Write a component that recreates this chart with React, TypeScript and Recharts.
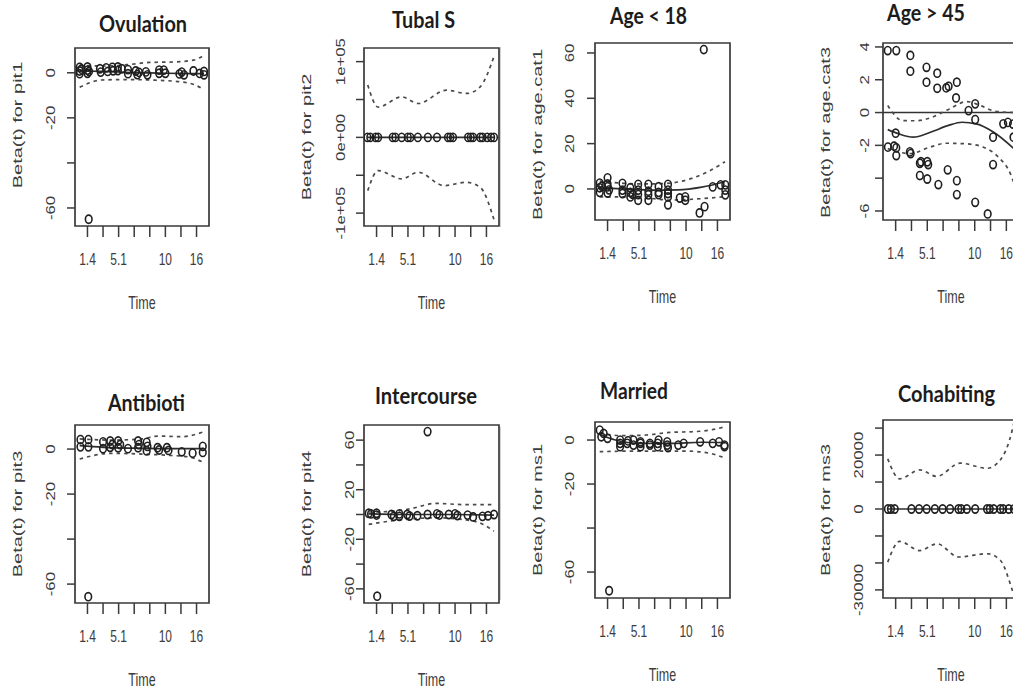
import React from "react";
import {
  ComposedChart,
  Scatter,
  Line,
  XAxis,
  YAxis,
  ReferenceArea,
  ReferenceLine,
} from "recharts";

// shared time axis (km-transformed, ticks by rank)
const TIME_TICKS = [1, 2, 3, 4, 5, 6, 7, 8];
const TIME_LABELS = ["1.4", "", "5.1", "", "", "10", "", "16"];
const T_DOMAIN: [number, number] = [0.2, 8.8];

// Ovulation (pit1)
const OVU_POINTS = [[0.5, 2.4], [0.5, 0.8], [0.5, -0.4], [0.62, 1.6], [1.0, 2.6], [1.0, 1.2], [1.0, -0.2], [1.1, 0.6], [1.08, -65], [1.8, 1.8], [1.85, 0.3], [2.2, 2.2], [2.3, 0.6], [2.6, 2.4], [2.65, 0.9], [2.95, 2.6], [2.95, 1.0], [3.2, 1.8], [3.6, 1.4], [3.6, -0.4], [4.1, 0.8], [4.2, -0.8], [4.3, 0.2], [4.75, 0.4], [4.85, -0.9], [5.6, 1.2], [5.6, -0.2], [5.9, 1.2], [6.0, -0.2], [6.9, -0.5], [7.05, 0.3], [7.2, -0.9], [7.8, 0.8], [8.2, -0.3], [8.48, 0.6], [8.48, -0.9]];
const OVU_FIT = [[0.5, 0.8], [2, 0.6], [4, 0.1], [6, -0.2], [8.48, -0.4]];
const OVU_HI = [[0.5, 3.4], [2, 3.0], [3.6, 3.6], [5, 4.6], [6.5, 4.8], [7.8, 5.6], [8.48, 7.8]];
const OVU_LO = [[0.5, -6.4], [1.9, -3.2], [3.6, -3.0], [5, -3.2], [6.8, -3.9], [7.9, -5.4], [8.48, -7.6]];
const OVU_Y_TICKS = [-60, -40, -20, 0];
const OVU_Y_LABELS = ["-60", "", "-20", "0"];

// Tubal S (pit2)
const TUBAL_POINTS = [[0.42, 0], [0.6, 0], [0.94, 0], [1.1, 0], [2.03, 0], [2.2, 0], [2.6, 0], [2.99, 0], [3.15, 0], [3.63, 0], [4.27, 0], [4.85, 0], [5.55, 0], [5.7, 0], [5.87, 0], [6.83, 0], [7.0, 0], [7.15, 0], [7.6, 0], [7.75, 0], [8.05, 0], [8.3, 0], [8.48, 0]];
const TUBAL_FIT = [[0.42, 0], [8.48, 0]];
const TUBAL_HI = [[0.44, 69000], [1.1, 40000], [2.6, 53500], [3.65, 44700], [5.45, 62300], [6.75, 58000], [7.6, 66700], [8.5, 108000]];
const TUBAL_LO = [[0.44, -70300], [1.1, -43800], [2.6, -54800], [3.65, -46000], [5.3, -63700], [6.7, -59300], [7.6, -65900], [8.5, -110000]];
const TUBAL_Y_TICKS = [-100000, -50000, 0, 50000, 100000];
const TUBAL_Y_LABELS = ["-1e+05", "", "0e+00", "", "1e+05"];

// Age < 18 (age.cat1)
const AGE1_POINTS = [[0.5, 2.6], [0.5, 0.5], [0.5, -1.5], [0.65, 1.2], [1.0, 4.9], [1.0, 2.2], [1.0, 0.9], [1.0, -1.8], [1.1, -0.4], [1.95, 2.5], [1.95, -0.5], [1.95, -2.0], [2.45, 0.5], [2.45, -1.5], [2.45, -3.5], [2.6, -2.4], [2.95, 2.0], [2.95, -0.5], [2.95, -2.5], [2.95, -5.0], [3.6, 2.0], [3.6, -1.0], [3.6, -2.6], [3.6, -5.0], [4.25, 1.0], [4.25, -1.5], [4.25, -2.5], [4.85, 2.0], [4.85, -0.5], [4.85, -2.0], [4.85, -3.5], [4.85, -7.0], [5.6, -4.0], [5.95, -3.5], [5.95, -5.0], [6.86, -10.6], [7.18, -7.8], [7.13, 61.5], [7.7, 0.9], [8.2, 1.8], [8.5, 1.8], [8.5, -0.5], [8.5, -2.6]];
const AGE1_FIT = [[0.5, 0.5], [2, 0], [4, -0.5], [5.5, -0.4], [7, 0.8], [8.48, 3.2]];
const AGE1_HI = [[0.5, 3.5], [2, 2.5], [3.5, 2.2], [5, 2.6], [6.5, 5], [7.5, 8], [8.48, 12]];
const AGE1_LO = [[0.5, -3.5], [2, -3.5], [3.5, -4], [5, -4.9], [6.5, -4.5], [8.48, -3.4]];
const AGE1_Y_TICKS = [0, 20, 40, 60];
const AGE1_Y_LABELS = ["0", "20", "40", "60"];

// Age > 45 (age.cat3)
const AGE3_POINTS = [[0.5, 3.78], [1.04, 3.78], [1.93, 3.48], [1.93, 2.52], [2.95, 2.76], [3.63, 2.4], [2.95, 1.85], [3.63, 1.48], [4.2, 1.5], [4.35, 1.6], [4.87, 1.85], [4.82, 0.89], [6.03, 0.53], [5.61, 0.12], [6.03, -0.43], [7.8, -0.69], [8.1, -0.6], [8.42, -0.7], [7.16, -1.5], [8.45, -1.5], [1.0, -1.26], [0.51, -2.11], [0.9, -2.05], [1.04, -2.15], [1.04, -2.62], [1.9, -2.4], [1.95, -2.5], [2.53, -3.09], [2.6, -3.0], [3.06, -3.17], [3.0, -3.0], [2.53, -3.84], [3.0, -4.05], [3.7, -4.39], [4.29, -3.49], [4.87, -4.15], [4.87, -5.0], [6.03, -5.47], [6.82, -6.18], [7.16, -3.17]];
const AGE3_FIT = [[0.5, -1.04], [1.2, -1.3], [2.1, -1.5], [3.2, -1.2], [4.3, -0.8], [5.2, -0.59], [6.1, -0.69], [7.2, -1.2], [8.48, -2.2]];
const AGE3_HI = [[0.5, 0.43], [1.45, -0.49], [2.3, -0.5], [3.17, -0.33], [4.4, 0.22], [5.5, 0.67], [6.35, 0.43], [7.3, 0.08], [8.48, 0.0]];
const AGE3_LO = [[0.5, -2.2], [1.9, -2.5], [3.17, -2.11], [4.2, -1.87], [5.5, -1.91], [6.55, -2.11], [7.5, -2.72], [8.26, -3.74], [8.48, -4.3]];
const AGE3_Y_TICKS = [-6, -4, -2, 0, 2, 4];
const AGE3_Y_LABELS = ["-6", "", "-2", "0", "2", "4"];

// Antibioti (pit3)
const ANTI_POINTS = [[0.55, 4.2], [0.55, 1.0], [1.06, 4.2], [1.06, 1.0], [1.05, -65.6], [2.0, 3.2], [2.0, 0.2], [2.46, 3.6], [2.46, 0.8], [2.6, 2.0], [2.97, 3.6], [2.97, 0.6], [3.1, 2.0], [3.6, 0.2], [4.25, 3.6], [4.25, 0.6], [4.3, 2.0], [4.8, 3.0], [4.8, -0.8], [4.85, 1.2], [5.5, 0.6], [5.6, -0.4], [6.1, 0.6], [6.2, -0.6], [7.05, -1.2], [7.75, -1.8], [8.4, 1.2], [8.4, -1.5]];
const ANTI_FIT = [[0.5, 1.5], [2, 0.8], [4, 0.4], [6, 0.2], [8.48, 0.2]];
const ANTI_HI = [[0.5, 4.5], [2.5, 4], [4.5, 4.5], [5.5, 5.8], [7, 5.5], [8.48, 7.7]];
const ANTI_LO = [[0.5, -4.4], [2.5, -1.9], [4.5, -2.2], [6, -2.7], [7.5, -3.5], [8.48, -6.1]];

// Intercourse (pit4)
const INTER_POINTS = [[0.5, 1], [0.65, 0.5], [1.0, 1], [1.0, -0.5], [1.04, -65.9], [1.95, 0], [2.1, -1.5], [2.45, 0.5], [2.45, -1.5], [2.95, 0], [3.1, -1.2], [3.6, -1], [4.25, 0], [4.25, 66.9], [4.85, 0.5], [5.0, -0.5], [5.6, 0], [6.0, 0.5], [6.15, -0.8], [6.8, -0.5], [7.15, -2], [7.75, -1.5], [8.1, -1], [8.48, 0]];
const INTER_FIT = [[0.5, 0.5], [3, 0], [6, 0], [8.48, -0.5]];
const INTER_HI = [[0.5, 2], [2, 2.5], [3.1, 4.5], [4.8, 9], [6.5, 8], [8.48, 8]];
const INTER_LO = [[0.5, -8], [1.8, -5.4], [4.8, -2.7], [6.5, -4], [7.8, -8], [8.48, -13.5]];
const INTER_Y_TICKS = [-60, -40, -20, 0, 20, 40, 60];
const INTER_Y_LABELS = ["-60", "", "-20", "", "20", "", "60"];

// Married (ms1)
const MARRIED_POINTS = [[0.5, 4.5], [0.75, 3.0], [0.6, 1.5], [1.0, 0.8], [1.1, -68.5], [1.8, 0], [1.8, -1.5], [1.8, -3], [2.25, -1.5], [2.3, -0.4], [2.65, 0], [2.65, -2.3], [3.1, -0.8], [3.1, -1.5], [3.1, -3], [3.7, -1.5], [3.7, -2.3], [4.2, -1.5], [4.2, -3], [4.25, 0], [4.8, -0.8], [4.8, -2.3], [4.85, -3.4], [5.5, -2.3], [5.85, -1.5], [6.9, -0.8], [7.7, -1.5], [8.1, -0.8], [8.45, -2.3], [8.45, -3]];
const MARRIED_FIT = [[0.5, 2.5], [1.5, 0], [3, -1.5], [5, -1.5], [7, -1], [8.48, -1.2]];
const MARRIED_HI = [[0.5, 3], [2, 2], [3.5, 2.3], [5, 3.5], [6.5, 3.8], [7.5, 4.5], [8.48, 6]];
const MARRIED_LO = [[0.5, -5.3], [3, -5], [6, -5], [7.5, -6], [8.48, -8.2]];

// Cohabiting (ms3)
const COHAB_POINTS = [[0.51, 0], [0.7, 0], [0.94, 0], [2.0, 0], [2.48, 0], [2.96, 0], [3.48, 0], [3.97, 0], [4.44, 0], [4.97, 0], [5.15, 0], [5.5, 0], [6.03, 0], [6.78, 0], [6.95, 0], [7.2, 0], [7.62, 0], [7.8, 0], [8.15, 0], [8.48, 0]];
const COHAB_FIT = [[0.5, 0], [8.48, 0]];
const COHAB_HI = [[0.5, 18600], [1.25, 11200], [2.53, 14500], [3.59, 12100], [5.08, 17000], [6.78, 15100], [7.62, 18200], [8.37, 29200], [8.48, 32000]];
const COHAB_LO = [[0.5, -19700], [1.25, -12000], [2.53, -15400], [3.62, -12900], [4.97, -17800], [6.78, -16600], [7.62, -19000], [8.37, -30000], [8.48, -32000]];
const COHAB_Y_TICKS = [-30000, -20000, -10000, 0, 10000, 20000, 30000];
const COHAB_Y_LABELS = ["-30000", "", "", "0", "", "20000", ""];

const INK = "#3a3a3a";
const TEXT = "#3c3c3c";
const R_FONT = "'Liberation Sans', Arial, sans-serif";

type Row = { t: number; b: number };
const rows = (a: number[][]): Row[] => a.map(([t, b]) => ({ t, b }));

const PANELS = [
  { title: "Ovulation", ylab: "Beta(t) for pit1", box: [75, 48, 209, 226], yDomain: [-68, 11], ticks: OVU_Y_TICKS, labels: OVU_Y_LABELS, points: OVU_POINTS, fit: OVU_FIT, hi: OVU_HI, lo: OVU_LO, tickOff: 24, ylabDy: -12, tx: 143, ty: 24, tw: 88 },
  { title: "Tubal S", ylab: "Beta(t) for pit2", box: [364, 48, 499, 226], yDomain: [-117000, 118000], ticks: TUBAL_Y_TICKS, labels: TUBAL_Y_LABELS, points: TUBAL_POINTS, fit: TUBAL_FIT, hi: TUBAL_HI, lo: TUBAL_LO, tickOff: 23, ylabDy: 0, tx: 423.5, ty: 20, tw: 63 },
  { title: "Age < 18", ylab: "Beta(t) for age.cat1", box: [595, 43, 730, 220], yDomain: [-13.7, 64.4], ticks: AGE1_Y_TICKS, labels: AGE1_Y_LABELS, points: AGE1_POINTS, fit: AGE1_FIT, hi: AGE1_HI, lo: AGE1_LO, tickOff: 25, ylabDy: 3, tx: 648.5, ty: 16, tw: 77 },
  { title: "Age > 45", ylab: "Beta(t) for age.cat3", box: [883, 43, 1019, 220], yDomain: [-6.55, 4.24], ticks: AGE3_Y_TICKS, labels: AGE3_Y_LABELS, points: AGE3_POINTS, fit: AGE3_FIT, hi: AGE3_HI, lo: AGE3_LO, tickOff: 18, ylabDy: 1, tx: 926, ty: 13, tw: 78, zero: true },
  { title: "Antibioti", ylab: "Beta(t) for pit3", box: [75, 425, 209, 603], yDomain: [-68.4, 10.7], ticks: OVU_Y_TICKS, labels: OVU_Y_LABELS, points: ANTI_POINTS, fit: ANTI_FIT, hi: ANTI_HI, lo: ANTI_LO, tickOff: 24, ylabDy: 0, tx: 146.5, ty: 403.5, tw: 77 },
  { title: "Intercourse", ylab: "Beta(t) for pit4", box: [364, 425, 499, 603], yDomain: [-71.4, 72.2], ticks: INTER_Y_TICKS, labels: INTER_Y_LABELS, points: INTER_POINTS, fit: INTER_FIT, hi: INTER_HI, lo: INTER_LO, tickOff: 14, ylabDy: 0, tx: 426, ty: 396, tw: 102 },
  { title: "Married", ylab: "Beta(t) for ms1", box: [595, 422, 730, 598], yDomain: [-71.8, 8.2], ticks: OVU_Y_TICKS, labels: OVU_Y_LABELS, points: MARRIED_POINTS, fit: MARRIED_FIT, hi: MARRIED_HI, lo: MARRIED_LO, tickOff: 25, ylabDy: 0, tx: 634, ty: 391.5, tw: 68 },
  { title: "Cohabiting", ylab: "Beta(t) for ms3", box: [883, 420, 1019, 598], yDomain: [-33000, 33000], ticks: COHAB_Y_TICKS, labels: COHAB_Y_LABELS, points: COHAB_POINTS, fit: COHAB_FIT, hi: COHAB_HI, lo: COHAB_LO, tickOff: 24, ylabDy: 1, tx: 946.5, ty: 394.5, tw: 97 },
];

// R output in the picture is stretched vertically, so text is scaled in y
const Stretch = ({ x, y, text, size, k, vertical }: any) => (
  <g transform={`translate(${x},${y}) scale(1,${k})${vertical ? " rotate(-90)" : ""}`}>
    <text x={0} y={0} dy="0.36em" textAnchor="middle" fontFamily={R_FONT} fontSize={size} fill={TEXT}>
      {text}
    </text>
  </g>
);

const Ring = (props: any) => (
  <ellipse cx={props.cx} cy={props.cy} rx={3.3} ry={4.1} fill="none" stroke="#1f1f1f" strokeWidth={1.6} />
);

const YW = 75;
const TOPM = 10;
const RIGHTM = 10;
const XH = 90;

const Panel = ({ p }: { p: (typeof PANELS)[number] }) => {
  const [L, T, R, B] = p.box;
  const w = YW + (R - L) + RIGHTM;
  const h = TOPM + (B - T) + XH;
  const dashed = { stroke: "#4a4a4a", strokeWidth: 1.7, strokeDasharray: "3.5 4" };

  return (
    <div style={{ position: "absolute", left: L - YW, top: T - TOPM }}>
      <ComposedChart width={w} height={h} margin={{ top: TOPM, right: RIGHTM, bottom: 0, left: 0 }}>
        <XAxis
          dataKey="t"
          type="number"
          domain={T_DOMAIN}
          ticks={TIME_TICKS}
          interval={0}
          allowDataOverflow
          height={XH}
          axisLine={false}
          tickSize={11}
          tickMargin={0}
          tickLine={{ stroke: INK, strokeWidth: 1.5 }}
          tick={(tp: any) => {
            const s = TIME_LABELS[TIME_TICKS.indexOf(tp.payload.value)];
            return s ? <Stretch x={tp.x} y={tp.y + 22} text={s} size={12} k={1.4} /> : <g />;
          }}
          label={{
            content: (lp: any) => {
              const vb = lp.viewBox || {};
              return <Stretch x={vb.x + vb.width / 2} y={vb.y + 76} text="Time" size={12.5} k={1.5} />;
            },
          }}
        />
        <YAxis
          dataKey="b"
          type="number"
          domain={p.yDomain}
          ticks={p.ticks}
          interval={0}
          allowDataOverflow
          width={YW}
          axisLine={false}
          tickSize={8}
          tickMargin={0}
          tickLine={{ stroke: INK, strokeWidth: 1.5 }}
          tick={(tp: any) => {
            const s = p.labels[p.ticks.indexOf(tp.payload.value)];
            return s ? <Stretch x={tp.x + 8 - p.tickOff} y={tp.y} text={s} size={12} k={1.4} vertical /> : <g />;
          }}
          label={{
            content: (lp: any) => {
              const vb = lp.viewBox || {};
              return (
                <Stretch
                  x={vb.x + vb.width - 57.5}
                  y={vb.y + vb.height / 2 + p.ylabDy}
                  text={p.ylab}
                  size={12.5}
                  k={1.6}
                  vertical
                />
              );
            },
          }}
        />
        <ReferenceArea
          x1={T_DOMAIN[0]}
          x2={T_DOMAIN[1]}
          y1={p.yDomain[0]}
          y2={p.yDomain[1]}
          fill="none"
          fillOpacity={0}
          stroke={INK}
          strokeWidth={1.7}
          ifOverflow="visible"
        />
        {p.zero && <ReferenceLine y={0} stroke="#333" strokeWidth={1.4} />}
        <Scatter data={rows(p.points)} shape={Ring} isAnimationActive={false} />
        <Line data={rows(p.fit)} dataKey="b" type="monotone" dot={false} stroke="#2e2e2e" strokeWidth={1.7} isAnimationActive={false} />
        <Line data={rows(p.hi)} dataKey="b" type="monotone" dot={false} {...dashed} isAnimationActive={false} />
        <Line data={rows(p.lo)} dataKey="b" type="monotone" dot={false} {...dashed} isAnimationActive={false} />
      </ComposedChart>
    </div>
  );
};

export default function App() {
  return (
    <div style={{ position: "absolute", left: 0, top: 0, width: 1013, height: 690, overflow: "hidden", background: "#fff" }}>
      {PANELS.map((p) => (
        <Panel key={p.title} p={p} />
      ))}
      <div style={{ position: "absolute", left: 500, top: 47, width: 1, height: 180, background: "#cfcfcf" }} />
      <div style={{ position: "absolute", left: 500, top: 427, width: 1, height: 173, background: "#cfcfcf" }} />
      <svg width={1013} height={690} style={{ position: "absolute", left: 0, top: 0, pointerEvents: "none" }}>
        {PANELS.map((p) => (
          <text
            key={p.title}
            x={p.tx}
            y={p.ty}
            dy="0.36em"
            textAnchor="middle"
            fontFamily="Lato, 'Open Sans', sans-serif"
            fontWeight={700}
            fontSize={22}
            fill="#1c1c1c"
            textLength={p.tw}
            lengthAdjust="spacingAndGlyphs"
          >
            {p.title}
          </text>
        ))}
      </svg>
    </div>
  );
}
